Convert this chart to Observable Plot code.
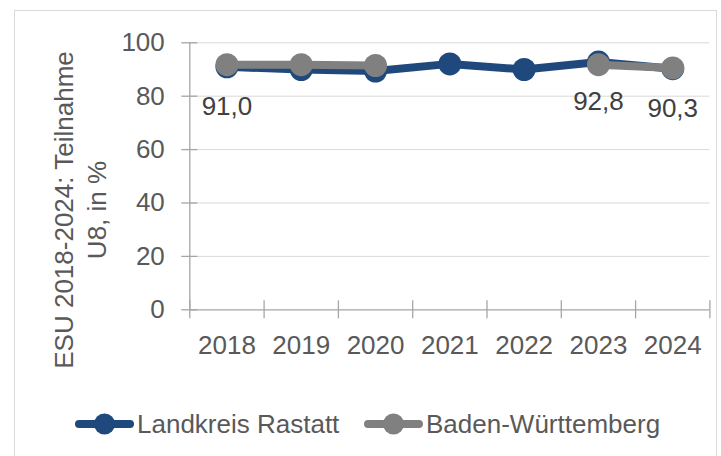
<!DOCTYPE html>
<html>
<head>
<meta charset="utf-8">
<script src="https://cdn.jsdelivr.net/npm/d3@7"></script>
<script src="https://cdn.jsdelivr.net/npm/@observablehq/plot@0.6"></script>
<style>
  html, body { margin: 0; padding: 0; background: #fff; }
  #wrap { position: relative; width: 721px; height: 456px; overflow: hidden; font-family: "Liberation Sans", Arial, sans-serif; }
  #frame { position: absolute; left: 14px; top: 10px; width: 703px; height: 460px; border: 1px solid #d9d9d9; box-sizing: border-box; }
  #chart { position: absolute; left: 0; top: 0; }
  #ytitle { position: absolute; left: -89.5px; top: 177px; width: 340px; height: 66px; line-height: 33px; font-size: 26px; color: #595959; text-align: center; transform: rotate(-90deg); transform-origin: 50% 50%; white-space: nowrap; }
  .leg { position: absolute; top: 410px; height: 28px; display: flex; align-items: center; font-size: 26px; color: #595959; white-space: nowrap; }
  .leg svg { margin-right: 3px; }
</style>
</head>
<body>
<div id="wrap">
  <div id="frame"></div>
  <div id="chart"></div>
  <div id="ytitle">ESU 2018-2024: Teilnahme<br>U8, in %</div>
  <div id="legend"></div>
</div>
<script>
// ---- data ----
const years = [2018, 2019, 2020, 2021, 2022, 2023, 2024];
const rastatt = [91.0, 90.0, 89.4, 92.1, 90.0, 92.8, 90.3];
const bawue = [91.8, 91.8, 91.5, null, null, 91.8, 90.6];
const seriesNames = ["Landkreis Rastatt", "Baden-Württemberg"];
const seriesColors = ["#1F497D", "#808080"];
const yTicks = [0, 20, 40, 60, 80, 100];
const labelYears = [2018, 2023, 2024];

const fmt = v => v.toFixed(1).replace(".", ",");
const rowsR = years.map((y, i) => ({year: y, value: rastatt[i]}));
const rowsB = years.map((y, i) => ({year: y, value: bawue[i]}));
const labelRows = rowsR.filter(d => labelYears.includes(d.year));
const xMin = years[0] - 0.5, xMax = years[years.length - 1] + 0.5;
const bounds = years.map(y => y - 0.5).concat([xMax]);

const axisColor = "#a6a6a6";
const gridColor = "#d9d9d9";

const chart = Plot.plot({
  width: 721,
  height: 456,
  marginLeft: 189.3,
  marginRight: 11.6,
  marginTop: 42.3,
  marginBottom: 146.7,
  style: {fontFamily: '"Liberation Sans", Arial, sans-serif', color: "#595959", background: "transparent", overflow: "visible"},
  x: {type: "linear", domain: [xMin, xMax]},
  y: {domain: [0, 100]},
  marks: [
    Plot.ruleY(yTicks.filter(t => t > 0), {y: d => d, x1: xMin, x2: xMax, stroke: gridColor, strokeWidth: 1}),
    Plot.ruleY(yTicks, {y: d => d, x1: xMin, x2: xMin, insetLeft: -8, insetRight: -8, stroke: axisColor, strokeWidth: 1.3}),
    Plot.ruleX([xMin], {x: d => d, y1: 0, y2: 100, stroke: axisColor, strokeWidth: 1.3}),
    Plot.ruleY([0], {y: d => d, x1: xMin, x2: xMax, stroke: axisColor, strokeWidth: 1.3}),
    Plot.ruleX(bounds, {x: d => d, y1: 0, y2: 0, insetTop: -9, insetBottom: -9, stroke: axisColor, strokeWidth: 1.3}),
    Plot.axisY(yTicks, {anchor: "left", tickSize: 0, tickPadding: 25, fontSize: 26, label: null, tickFormat: d => String(d)}),
    Plot.axisX(years, {anchor: "bottom", tickSize: 0, tickPadding: 26, fontSize: 26, label: null, tickFormat: d => String(d)}),
    Plot.line(rowsR, {x: "year", y: "value", stroke: seriesColors[0], strokeWidth: 8, strokeLinecap: "round", strokeLinejoin: "round"}),
    Plot.dot(rowsR, {x: "year", y: "value", r: 11.5, fill: seriesColors[0], stroke: "none"}),
    Plot.line(rowsB, {x: "year", y: "value", stroke: seriesColors[1], strokeWidth: 8, strokeLinecap: "round", strokeLinejoin: "round"}),
    Plot.dot(rowsB, {x: "year", y: "value", r: 11.5, fill: seriesColors[1], stroke: "none"}),
    Plot.text(labelRows, {x: "year", y: "value", text: d => fmt(d.value), dy: 40, fontSize: 26, fill: "#404040"})
  ]
});
document.getElementById("chart").appendChild(chart);

// ---- legend ----
const legend = document.getElementById("legend");
const legLeft = [75, 364];
seriesNames.forEach((name, i) => {
  const item = document.createElement("div");
  item.className = "leg";
  item.style.left = legLeft[i] + "px";
  item.innerHTML = `<svg width="59" height="22"><line x1="4" y1="11" x2="55" y2="11" stroke="${seriesColors[i]}" stroke-width="8" stroke-linecap="round"/><circle cx="29.5" cy="11" r="10.5" fill="${seriesColors[i]}"/></svg><span>${name}</span>`;
  legend.appendChild(item);
});
</script>
</body>
</html>
